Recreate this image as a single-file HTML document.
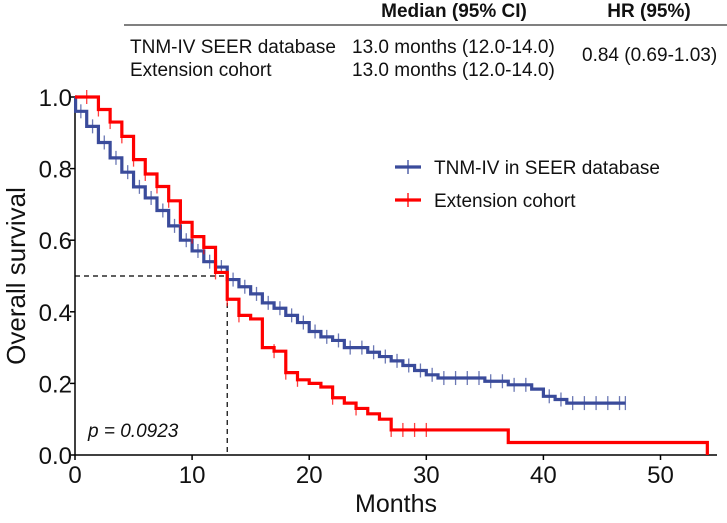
<!DOCTYPE html>
<html><head><meta charset="utf-8"><style>
body{margin:0;background:#fff;}
svg text{font-family:"Liberation Sans",Arial,sans-serif;}
</style></head><body>
<svg width="727" height="518" viewBox="0 0 727 518" xmlns="http://www.w3.org/2000/svg">
<g font-size="19" fill="#111">
<text x="454" y="17" text-anchor="middle" font-weight="bold">Median (95% CI)</text>
<text x="649" y="17" text-anchor="middle" font-weight="bold">HR (95%)</text>
<line x1="124" y1="25" x2="727" y2="25" stroke="#000" stroke-width="1"/>
<text x="130" y="53">TNM-IV SEER database</text>
<text x="352" y="53">13.0 months (12.0-14.0)</text>
<text x="130" y="76">Extension cohort</text>
<text x="352" y="76">13.0 months (12.0-14.0)</text>
<text x="582" y="61">0.84 (0.69-1.03)</text>
</g>
<g id="plot"></g>
</svg>
<script>
const blueTimes=[0,0.05,1,2,3,4,5,6,7,8,9,10,11,12,13,14,15,16,17,18,19,20,21,22,23,25,26,27,28,29,30,31,35,37,39,40,41,42];
const blueSurv=[1,0.96,0.918,0.873,0.83,0.79,0.749,0.718,0.683,0.64,0.60,0.57,0.54,0.525,0.49,0.47,0.45,0.425,0.41,0.39,0.37,0.345,0.33,0.32,0.30,0.287,0.275,0.263,0.25,0.236,0.224,0.215,0.206,0.196,0.184,0.164,0.155,0.145];
const blueEnd=47;
const blueCensor=[0.5,1.5,2.5,3.5,4.5,5.5,6.5,7.5,8.5,9.5,10.5,11.5,12.5,13.5,14.5,15.5,16.5,17.5,18.5,19.5,20.5,21.5,22.5,23.5,24.5,25.5,26.5,27.5,28.5,29.5,30.5,31.5,32.5,33.5,34.5,35.5,36.5,37.5,38.5,40.5,41.5,42.5,43.5,44.5,45.5,46.5,47];
const redTimes=[0,2,3,4,5,6,7,8,9,10,11,12,13,14,15,16,17,18,19,20,21,22,23,24,25,26,27,37];
const redSurv=[1,0.965,0.93,0.89,0.825,0.785,0.75,0.71,0.65,0.61,0.58,0.51,0.435,0.39,0.38,0.30,0.29,0.23,0.21,0.20,0.19,0.16,0.145,0.13,0.115,0.10,0.07,0.035];
const redEnd=54;
const redCensor=[1,2,3,4,5,6,7,8,9,10,11,12,13,14,17,18,19,22,24,27,28,29,30];
const xTicks=[0,10,20,30,40,50];
const yTicks=[0,0.2,0.4,0.6,0.8,1.0];
const medianTime=13, medianSurv=0.5;

const X0=75,XS=11.71,Y0=455,YS=358;
const sx=t=>X0+t*XS, sy=v=>Y0-v*YS;
const NS="http://www.w3.org/2000/svg";
const g=document.getElementById('plot');
function mk(tag,attrs,parent){const e=document.createElementNS(NS,tag);for(const k in attrs)e.setAttribute(k,attrs[k]);(parent||g).appendChild(e);return e;}
function survAt(times,surv,t){let v=surv[0];for(let i=0;i<times.length;i++){if(times[i]<=t)v=surv[i];}return v;}

let ax=mk('line',{x1:sx(0),y1:sy(0),x2:717,y2:sy(0),stroke:'#000','stroke-width':1.5});


let ay=mk('line',{x1:sx(0),y1:sy(0),x2:sx(0),y2:sy(1),stroke:'#000','stroke-width':1.5});


xTicks.forEach(t=>{
  let l=mk('line',{x1:sx(t),y1:sy(0),x2:sx(t),y2:sy(0)+5,stroke:'#000','stroke-width':1.5});
  
  
  let tx=mk('text',{x:sx(t),y:483,'text-anchor':'middle','font-size':24,fill:'#111'});
  tx.textContent=t;
  
  
});
yTicks.forEach(v=>{
  let l=mk('line',{x1:sx(0)-5,y1:sy(v),x2:sx(0),y2:sy(v),stroke:'#000','stroke-width':1.5});
  
  
  let tx=mk('text',{x:72,y:sy(v)+9,'text-anchor':'end','font-size':24,fill:'#111'});
  tx.textContent=v.toFixed(1);
  
  
});
let xt=mk('text',{x:396,y:512,'text-anchor':'middle','font-size':25,fill:'#111'});
xt.textContent='Months';


let yt=mk('text',{x:0,y:0,'text-anchor':'middle','font-size':26,fill:'#111',transform:'translate(25,'+sy(0.5)+') rotate(-90)'});
yt.textContent='Overall survival';



let dh=mk('line',{x1:sx(0),y1:sy(medianSurv),x2:sx(medianTime),y2:sy(medianSurv),stroke:'#000','stroke-width':1.2,'stroke-dasharray':'5,4'});


let dv=mk('line',{x1:sx(medianTime),y1:sy(medianSurv),x2:sx(medianTime),y2:sy(0),stroke:'#000','stroke-width':1.2,'stroke-dasharray':'5,4'});



function curve(times,surv,end,censor,color,name,dropEnd){
  let d='M'+sx(times[0])+','+sy(surv[0]);
  for(let i=1;i<times.length;i++){d+=' H'+sx(times[i])+' V'+sy(surv[i]);}
  d+=' H'+sx(end);
  if(dropEnd)d+=' V'+sy(0);
  let p=mk('path',{d:d,fill:'none',stroke:color,'stroke-width':3.2});
  
  
  censor.forEach(t=>{
    const v=survAt(times,surv,t);
    let c=mk('line',{x1:sx(t),y1:sy(v)-7,x2:sx(t),y2:sy(v)+7,stroke:color,'stroke-width':1.3,opacity:0.75});
    
    
  });
}
curve(blueTimes,blueSurv,blueEnd,blueCensor,'#3a4b9b','seer',false);
curve(redTimes,redSurv,redEnd,redCensor,'#ff0000','extension',true);

[['#3a4b9b','TNM-IV in SEER database',167,'legend-seer'],['#ff0000','Extension cohort',200,'legend-extension']].forEach(([c,txt,y,n])=>{
  let l=mk('line',{x1:395,y1:y,x2:421,y2:y,stroke:c,'stroke-width':3.2});
  
  
  let m=mk('line',{x1:408,y1:y-7,x2:408,y2:y+7,stroke:c,'stroke-width':1.3});
  
  
  let t=mk('text',{x:434,y:y+7,'font-size':19,fill:'#111'});
  t.textContent=txt;
  
  
});
let pt=mk('text',{x:88,y:437,'font-size':19,'font-style':'italic',fill:'#111'});
pt.textContent='p = 0.0923';


</script>
</body></html>
